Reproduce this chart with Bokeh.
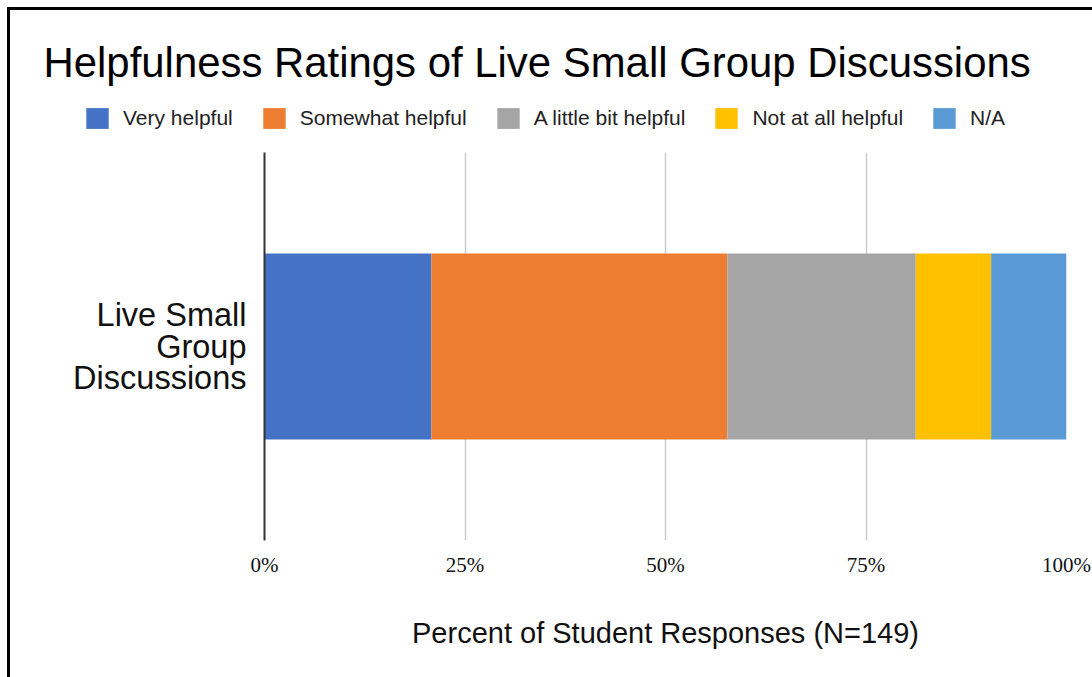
from bokeh.plotting import figure
from bokeh.layouts import column
from bokeh.models import (Range1d, FactorRange, FixedTicker, Legend, LegendItem,
                          Label, InlineStyleSheet, CustomJSTickFormatter,
                          ColumnDataSource)
from bokeh.embed import file_html
from bokeh.resources import INLINE

# Survey responses (N=149)
category = ["Live Small\nGroup\nDiscussions"]
ratings = ["Very helpful", "Somewhat helpful", "A little bit helpful",
           "Not at all helpful", "N/A"]
counts = [31, 55, 35, 14, 14]
colors = ["#4472C4", "#ED7D31", "#A5A5A5", "#FFC000", "#5B9BD5"]
x_ticks = [0, 25, 50, 75, 100]
n_total = sum(counts)

percents = [c / n_total * 100 for c in counts]
data = {"cat": category}
for r, pct in zip(ratings, percents):
    data[r] = [pct]
source = ColumnDataSource(data)

# ---- header: title and legend -------------------------------------------
head = figure(
    width=1092, height=152,
    x_range=Range1d(0, 1092), y_range=Range1d(152, 0),
    x_axis_type=None, y_axis_type=None,
    min_border=0, output_backend="svg", toolbar_location=None,
)
head.frame_align = False
head.grid.grid_line_color = None
head.outline_line_color = None

head.add_layout(Label(
    x=43, y=62, text="Helpfulness Ratings of Live Small Group Discussions",
    text_font="Liberation Sans", text_font_size="41.9px", text_color="#000000",
    text_align="left", text_baseline="alphabetic"))

swatches = head.hbar_stack(ratings, y=0, height=0, color=colors,
                           line_color=None, source=source, visible=False)
items = [LegendItem(label=r, renderers=[s]) for r, s in zip(ratings, swatches)]
legend = Legend(items=items, orientation="horizontal", location=(83, 21),
                glyph_width=28, glyph_height=26, label_standoff=12, spacing=27,
                padding=0, margin=0, border_line_color=None,
                background_fill_alpha=0,
                label_text_font="Liberation Sans", label_text_font_size="21px",
                label_text_color="#222222", label_height=26)
head.add_layout(legend)

# ---- stacked bar --------------------------------------------------------
p = figure(
    width=1092, height=525,
    frame_width=802, frame_height=388,
    min_border_left=264, min_border_right=26,
    min_border_top=0, min_border_bottom=137,
    y_range=FactorRange(*category),
    x_range=Range1d(0, 100),
    output_backend="svg", toolbar_location=None,
)
p.frame_align = False

p.hbar_stack(ratings, y="cat", height=0.48, color=colors,
             line_color=None, source=source)

# x axis
xa = p.xaxis[0]
xa.ticker = FixedTicker(ticks=x_ticks)
xa.formatter = CustomJSTickFormatter(code="return tick + '%';")
xa.axis_line_color = None
xa.major_tick_line_color = None
xa.minor_tick_line_color = None
xa.major_label_text_font = "Liberation Serif"
xa.major_label_text_font_size = "21px"
xa.major_label_text_color = "#111111"
xa.major_label_standoff = 6
xa.axis_label = "Percent of Student Responses (N=149)"
xa.axis_label_text_font = "Liberation Sans"
xa.axis_label_text_font_size = "29px"
xa.axis_label_text_font_style = "normal"
xa.axis_label_text_color = "#111111"
xa.axis_label_standoff = 37

# y axis
ya = p.yaxis[0]
ya.axis_line_color = "#333333"
ya.axis_line_width = 2
ya.major_tick_line_color = None
ya.minor_tick_line_color = None
ya.major_label_text_font = "Liberation Sans"
ya.major_label_text_font_size = "32.5px"
ya.major_label_text_line_height = 0.88
ya.major_label_text_color = "#111111"
ya.major_label_standoff = 12

# grid
p.xgrid.ticker = FixedTicker(ticks=x_ticks)
p.xgrid.grid_line_color = "#cccccc"
p.xgrid.grid_line_width = 1.5
p.ygrid.grid_line_color = None
p.outline_line_color = None

page = column(head, p, spacing=0)

# page frame along the top and left edges
page.stylesheets = [InlineStyleSheet(css="""
:host::after {
  content: "";
  position: absolute;
  left: 6.5px; top: 6.5px; right: 0; bottom: 0;
  border-left: 3px solid #000;
  border-top: 3px solid #000;
  pointer-events: none;
}
""")]

open("out.html", "w").write(file_html(page, INLINE))
